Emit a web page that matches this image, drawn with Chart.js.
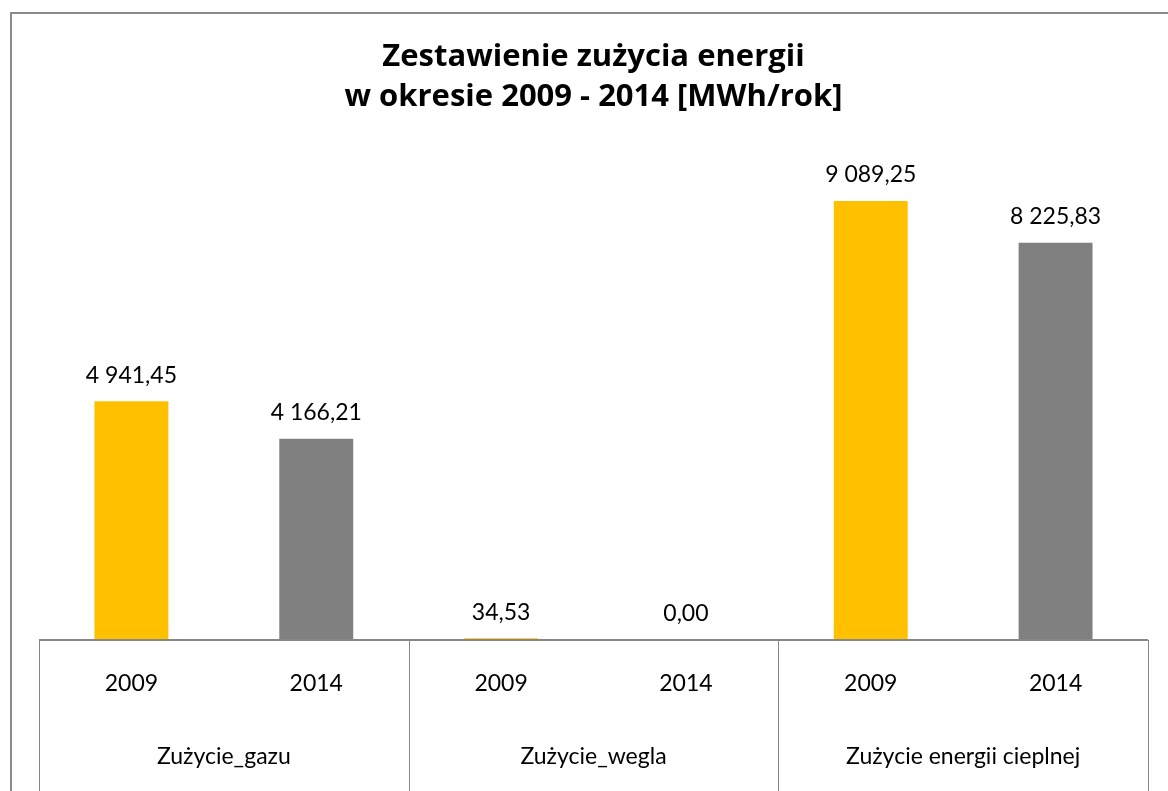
<!DOCTYPE html>
<html lang="pl">
<head>
<meta charset="utf-8">
<title>Zestawienie zużycia energii</title>
<script src="https://cdn.jsdelivr.net/npm/chart.js@4.4.1/dist/chart.umd.min.js"></script>
<style>
    html, body { margin: 0; padding: 0; background: #fff; }
    .wrap { position: relative; width: 1168px; height: 791px; overflow: hidden; }
    .frame {
        position: absolute; left: 10px; top: 12px; width: 1300px; height: 900px;
        border-top: 2px solid #8a8a8a; border-left: 2px solid #8a8a8a;
    }
    .wrap canvas { position: absolute; left: 0; top: 0; }
</style>
</head>
<body>
<div class="wrap">
    <div class="frame"></div>
    <canvas id="energyChart" width="1168" height="791"></canvas>
</div>
<script>
// --- Dane ---
const groups = ['Zużycie_gazu', 'Zużycie_wegla', 'Zużycie energii cieplnej'];
const years = ['2009', '2014'];
const values2009 = [4941.45, 34.53, 9089.25];
const values2014 = [4166.21, 0.00, 8225.83];
const yearColors = { '2009': '#FFC000', '2014': '#808080' };

// Spłaszczenie: każda grupa ma dwa słupki (2009, 2014)
const labels = [];
const values = [];
const colors = [];
groups.forEach((g, i) => {
    labels.push(years[0], years[1]);
    values.push(values2009[i], values2014[i]);
    colors.push(yearColors[years[0]], yearColors[years[1]]);
});

const FONT = 'Lato, "Open Sans", sans-serif';
const LINE = '#878787';

// format 4 941,45
function fmt(v) {
    const parts = v.toFixed(2).split('.');
    return parts[0].replace(/\B(?=(\d{3})+(?!\d))/g, ' ') + ',' + parts[1];
}

// --- Etykiety wartości nad słupkami ---
const valueLabels = {
    id: 'valueLabels',
    afterDatasetsDraw(chart) {
        const ctx = chart.ctx;
        const meta = chart.getDatasetMeta(0);
        ctx.save();
        ctx.font = '23px ' + FONT;
        ctx.fillStyle = '#000';
        ctx.textAlign = 'center';
        ctx.textBaseline = 'middle';
        meta.data.forEach((bar, i) => {
            ctx.fillText(fmt(values[i]), bar.x, bar.y - 26);
        });
        ctx.restore();
    }
};

// --- Linie podziału grup i nazwy grup ---
const groupAxis = {
    id: 'groupAxis',
    afterDraw(chart) {
        const ctx = chart.ctx;
        const x = chart.scales.x;
        const area = chart.chartArea;
        const half = (x.getPixelForValue(1) - x.getPixelForValue(0)) / 2;
        ctx.save();
        ctx.strokeStyle = LINE;
        // linia osi
        ctx.lineWidth = 2;
        ctx.beginPath();
        ctx.moveTo(area.left, area.bottom);
        ctx.lineTo(area.right, area.bottom);
        ctx.stroke();
        // pionowe separatory
        ctx.lineWidth = 1;
        for (let i = 0; i <= groups.length; i++) {
            const px = Math.round(x.getPixelForValue(i * 2) - half) + 0.5;
            ctx.beginPath();
            ctx.moveTo(px, area.bottom);
            ctx.lineTo(px, chart.height);
            ctx.stroke();
        }
        // nazwy grup
        ctx.font = '23px ' + FONT;
        ctx.fillStyle = '#000';
        ctx.textAlign = 'center';
        ctx.textBaseline = 'middle';
        groups.forEach((g, i) => {
            const cx = (x.getPixelForValue(i * 2) + x.getPixelForValue(i * 2 + 1)) / 2;
            ctx.fillText(g, cx, 757);
        });
        ctx.restore();
    }
};

const ctx = document.getElementById('energyChart').getContext('2d');
new Chart(ctx, {
    type: 'bar',
    data: {
        labels: labels,
        datasets: [{
            data: values,
            backgroundColor: colors,
            borderWidth: 0,
            categoryPercentage: 1,
            barPercentage: 0.4
        }]
    },
    options: {
        responsive: false,
        animation: false,
        layout: { padding: { left: 39, right: 20, top: 0, bottom: 0 } },
        scales: {
            x: {
                grid: { display: false, drawTicks: false },
                border: { display: false },
                ticks: {
                    color: '#000',
                    font: { family: FONT, size: 23 },
                    padding: 30,
                    maxRotation: 0,
                    autoSkip: false
                },
                afterFit: s => { s.height = 151; }
            },
            y: {
                display: false,
                min: 0,
                max: 10000
            }
        },
        plugins: {
            legend: { display: false },
            tooltip: { enabled: false },
            title: {
                display: true,
                text: ['Zestawienie zużycia energii', 'w okresie 2009 - 2014 [MWh/rok]'],
                color: '#000',
                font: { family: '"Open Sans", Lato, sans-serif', size: 31, weight: 'bold', lineHeight: 1.29 },
                padding: { top: 37, bottom: 40 }
            }
        }
    },
    plugins: [valueLabels, groupAxis]
});
</script>
</body>
</html>
